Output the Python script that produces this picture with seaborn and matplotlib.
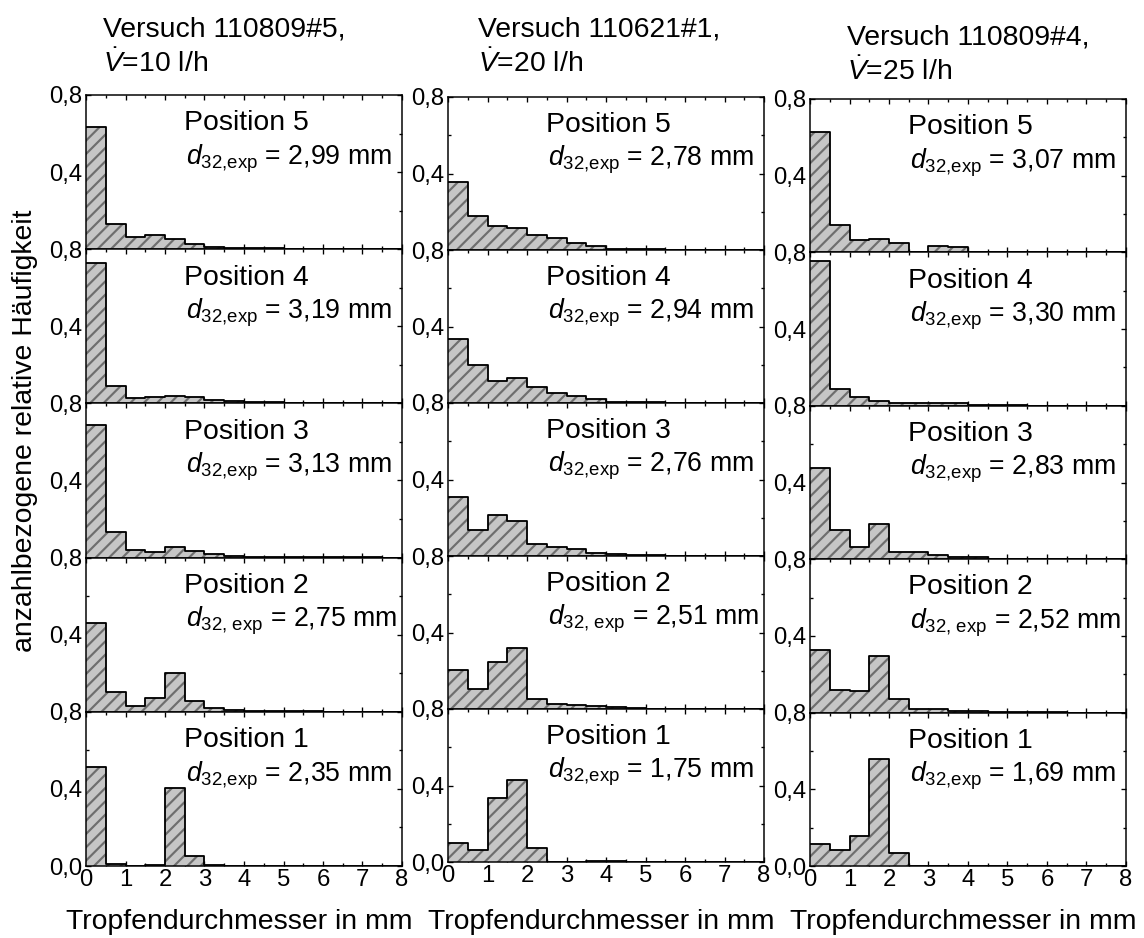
import numpy as np
import pandas as pd
import matplotlib
matplotlib.use("Agg")
import matplotlib.pyplot as plt
import seaborn as sns
from matplotlib.ticker import MultipleLocator, FixedLocator, FuncFormatter

# Droplet size classes (mm)
bin_edges = [i * 0.5 for i in range(17)]
bin_centers = [e + 0.25 for e in bin_edges[:-1]]

# Number-based relative frequency per size class, run 110809#5 (10 l/h)
v10_pos5 = [0.632, 0.132, 0.062, 0.075, 0.051, 0.025, 0.014, 0.008, 0.006, 0.004, 0.003, 0.002, 0.002, 0.001, 0.001, 0.001]
v10_pos4 = [0.729, 0.088, 0.029, 0.035, 0.038, 0.035, 0.018, 0.011, 0.009, 0.007, 0.003, 0.002, 0.001, 0.001, 0.001, 0.000]
v10_pos3 = [0.686, 0.133, 0.038, 0.028, 0.055, 0.035, 0.019, 0.008, 0.005, 0.004, 0.003, 0.002, 0.001, 0.001, 0.001, 0.000]
v10_pos2 = [0.462, 0.104, 0.028, 0.073, 0.199, 0.055, 0.021, 0.009, 0.005, 0.003, 0.002, 0.002, 0.001, 0.001, 0.000, 0.000]
v10_pos1 = [0.514, 0.012, 0.002, 0.007, 0.405, 0.052, 0.005, 0.002, 0.001, 0.000, 0.000, 0.000, 0.000, 0.000, 0.000, 0.000]

# Run 110621#1 (20 l/h)
v20_pos5 = [0.355, 0.178, 0.126, 0.113, 0.079, 0.065, 0.038, 0.023, 0.006, 0.004, 0.003, 0.002, 0.001, 0.001, 0.001, 0.000]
v20_pos4 = [0.334, 0.201, 0.113, 0.132, 0.083, 0.054, 0.035, 0.019, 0.006, 0.004, 0.003, 0.002, 0.001, 0.001, 0.000, 0.000]
v20_pos3 = [0.308, 0.135, 0.216, 0.182, 0.062, 0.045, 0.036, 0.016, 0.009, 0.004, 0.003, 0.002, 0.001, 0.001, 0.000, 0.000]
v20_pos2 = [0.203, 0.106, 0.246, 0.319, 0.054, 0.026, 0.019, 0.014, 0.009, 0.004, 0.002, 0.001, 0.001, 0.000, 0.000, 0.000]
v20_pos1 = [0.099, 0.064, 0.334, 0.431, 0.073, 0.000, 0.000, 0.003, 0.003, 0.000, 0.000, 0.000, 0.000, 0.000, 0.000, 0.000]

# Run 110809#4 (25 l/h)
v25_pos5 = [0.630, 0.145, 0.064, 0.068, 0.047, 0.003, 0.035, 0.026, 0.003, 0.002, 0.002, 0.001, 0.001, 0.000, 0.000, 0.000]
v25_pos4 = [0.757, 0.087, 0.047, 0.024, 0.014, 0.017, 0.016, 0.012, 0.003, 0.002, 0.002, 0.001, 0.001, 0.000, 0.000, 0.000]
v25_pos3 = [0.474, 0.151, 0.066, 0.182, 0.036, 0.038, 0.023, 0.009, 0.009, 0.003, 0.002, 0.001, 0.001, 0.000, 0.000, 0.000]
v25_pos2 = [0.327, 0.116, 0.113, 0.296, 0.071, 0.021, 0.017, 0.010, 0.007, 0.003, 0.002, 0.001, 0.001, 0.000, 0.000, 0.000]
v25_pos1 = [0.116, 0.085, 0.158, 0.558, 0.066, 0.000, 0.000, 0.000, 0.000, 0.000, 0.000, 0.000, 0.000, 0.000, 0.000, 0.000]

# Sauter mean diameters (text labels), top to bottom: position 5 ... 1
d32_v10 = ["2,99", "3,19", "3,13", "2,75", "2,35"]
d32_v20 = ["2,78", "2,94", "2,76", "2,51", "1,75"]
d32_v25 = ["3,07", "3,30", "2,83", "2,52", "1,69"]

run_titles = ["Versuch 110809#5,", "Versuch 110621#1,", "Versuch 110809#4,"]
flow_rates = ["10", "20", "25"]
positions = ["5", "4", "3", "2", "1"]
x_label = "Tropfendurchmesser in mm"
y_label = "anzahlbezogene relative Häufigkeit"

columns = [
    [v10_pos5, v10_pos4, v10_pos3, v10_pos2, v10_pos1],
    [v20_pos5, v20_pos4, v20_pos3, v20_pos2, v20_pos1],
    [v25_pos5, v25_pos4, v25_pos3, v25_pos2, v25_pos1],
]
d32_columns = [d32_v10, d32_v20, d32_v25]

sns.set_style("ticks")
plt.rcParams["font.family"] = ["Liberation Sans", "DejaVu Sans"]
plt.rcParams["mathtext.fontset"] = "custom"
plt.rcParams["mathtext.rm"] = "Liberation Sans"
plt.rcParams["mathtext.it"] = "Liberation Sans:italic"
plt.rcParams["mathtext.bf"] = "Liberation Sans:bold"
plt.rcParams["hatch.linewidth"] = 1.3
plt.rcParams["axes.linewidth"] = 0.9
for key in ["text.color", "axes.labelcolor", "xtick.color", "ytick.color",
            "axes.edgecolor"]:
    plt.rcParams[key] = "black"

W, H, DPI = 1144, 938, 120
fig = plt.figure(figsize=(W / DPI, H / DPI), dpi=DPI)

FS_TITLE = 17
FS_POS = 17
FS_D32 = 16
FS_LABEL = 17
FS_TICK = 14.3

# panel frames in pixels: left, top, bottom of each column
col_left = [86, 448, 810]
col_top = [95, 97, 99]
col_bottom = [866, 862, 866]
panel_w = 316

fill_color = "#c6c6c6"
hatch_color = "#6e6e6e"


def comma_fmt(v):
    return f"{v:.1f}".replace(".", ",")


for c, col in enumerate(columns):
    row_h = (col_bottom[c] - col_top[c]) / 5
    for r, vals in enumerate(col):
        top_px = col_top[c] + r * row_h
        ax = fig.add_axes([col_left[c] / W, 1 - (top_px + row_h) / H,
                           panel_w / W, row_h / H])
        df = pd.DataFrame({"d": bin_centers, "h": vals})
        # hatched grey fill
        sns.histplot(data=df, x="d", weights="h", bins=bin_edges, element="step",
                     fill=True, facecolor=fill_color, edgecolor=hatch_color,
                     hatch="///", linewidth=0, ax=ax)
        # black step outline
        sns.histplot(data=df, x="d", weights="h", bins=bin_edges, element="step",
                     fill=False, color="black", linewidth=1.1, ax=ax)
        ax.set_xlim(0, 8)
        ax.set_ylim(0, 0.8)
        ax.set_xlabel("")
        ax.set_ylabel("")
        for s in ax.spines.values():
            s.set_visible(True)
            s.set_color("black")
            s.set_linewidth(0.9)
            s.set_zorder(5)

        ax.xaxis.set_major_locator(MultipleLocator(1))
        ax.xaxis.set_minor_locator(MultipleLocator(0.5))
        ax.yaxis.set_major_locator(FixedLocator([0.0, 0.4, 0.8]))
        ax.yaxis.set_minor_locator(FixedLocator([0.2, 0.6]))
        bottom_row = r == 4
        ax.yaxis.set_major_formatter(FuncFormatter(
            lambda v, p, b=bottom_row: "" if (abs(v) < 1e-9 and not b) else comma_fmt(v)))
        ax.tick_params(which="both", direction="in", top=True, right=True,
                       color="black", width=0.8)
        ax.tick_params(which="major", length=3.2)
        ax.tick_params(which="minor", length=2.0)
        ax.tick_params(axis="y", labelsize=FS_TICK, pad=2.5)
        ax.tick_params(axis="x", labelsize=FS_TICK, pad=1.5,
                       labelbottom=bottom_row)

        ax.text(0.31, 0.77, f"Position {positions[r]}", transform=ax.transAxes,
                fontsize=FS_POS, ha="left", va="baseline", color="black")
        sub = "32, exp" if positions[r] == "2" else "32,exp"
        ax.text(0.315, 0.55, r"$d_{\text{" + sub + r"}}$" + f" = {d32_columns[c][r]} mm",
                transform=ax.transAxes, fontsize=FS_D32, ha="left",
                va="baseline", color="black")

    # column header
    base1 = [37, 37, 45][c]
    fig.text((col_left[c] + 17 + [0, 13, 20][c]) / W, 1 - base1 / H, run_titles[c],
             fontsize=FS_TITLE, ha="left", va="baseline")
    fig.text((col_left[c] + 17 + [0, 13, 20][c]) / W, 1 - (base1 + 35) / H,
             r"$\dot{V}$" + f"={flow_rates[c]} l/h",
             fontsize=FS_TITLE, ha="left", va="baseline")
    # x axis label
    fig.text((col_left[c] + panel_w / 2 - 5) / W, 1 - 929 / H, x_label,
             fontsize=FS_LABEL, ha="center", va="baseline")

fig.text(25 / W, 1 - 431 / H, y_label, rotation=90, fontsize=FS_LABEL,
         ha="center", va="center")

fig.savefig("out.png", dpi=DPI)
